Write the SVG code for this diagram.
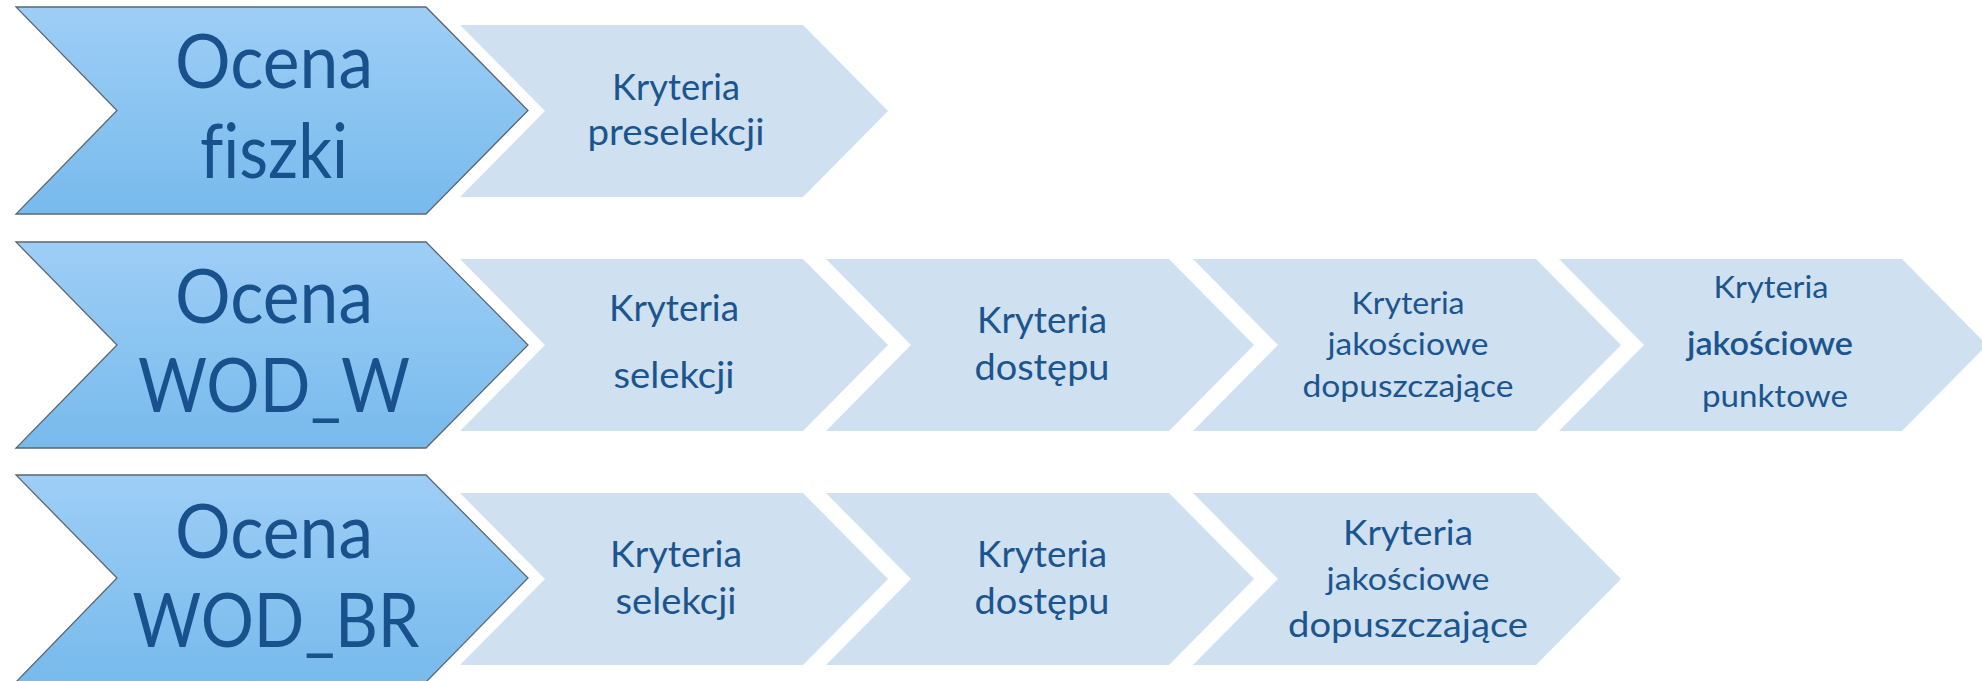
<svg xmlns="http://www.w3.org/2000/svg" width="1982" height="681" viewBox="0 0 1982 681">
<defs>
<linearGradient id="gBig" x1="0" y1="0" x2="0" y2="1">
<stop offset="0" stop-color="#9ECEF6"/>
<stop offset="1" stop-color="#77BAEC"/>
</linearGradient>
<style>
.big{fill:url(#gBig);stroke:#5E6670;stroke-width:1.3;stroke-linejoin:miter}
.lt{fill:#CFE0F1}
text{font-family:Lato,"Open Sans","Liberation Sans",sans-serif;fill:#1A5590;text-anchor:middle;font-variant-ligatures:none}
.h{font-size:75px;fill:#18518C}
.m{font-size:37px}
.s{font-size:30px}
</style>
</defs>
<rect width="1982" height="681" fill="#FFFFFF"/>

<g id="row1-head">
<path class="big" d="M16,7 H426 L528,110.5 L426,214 H16 L117,110.5 Z"/>
<text class="h" x="274" y="88" textLength="198" lengthAdjust="spacingAndGlyphs">Ocena</text>
<text class="h" x="274" y="178" textLength="148" lengthAdjust="spacingAndGlyphs">fiszki</text>
</g>
<g id="row1-preselekcja">
<path class="lt" d="M460,25 H803 L888,111 L803,197 H460 L545,111 Z"/>
<text class="m" x="676" y="100" textLength="128" lengthAdjust="spacingAndGlyphs">Kryteria</text>
<text class="m" x="676" y="145" textLength="177" lengthAdjust="spacingAndGlyphs">preselekcji</text>
</g>

<g id="row2-head">
<path class="big" d="M16,242 H426 L528,345 L426,448 H16 L117,345 Z"/>
<text class="h" x="274" y="323" textLength="198" lengthAdjust="spacingAndGlyphs">Ocena</text>
<text class="h" x="274" y="412" textLength="272" lengthAdjust="spacingAndGlyphs">WOD_W</text>
</g>
<g id="row2-selekcja">
<path class="lt" d="M460,259 H803 L888,345 L803,431 H460 L545,345 Z"/>
<text class="m" x="674" y="321" textLength="130" lengthAdjust="spacingAndGlyphs">Kryteria</text>
<text class="m" x="674" y="388" textLength="121" lengthAdjust="spacingAndGlyphs">selekcji</text>
</g>
<g id="row2-dostep">
<path class="lt" d="M826,259 H1169 L1254,345 L1169,431 H826 L911,345 Z"/>
<text class="m" x="1042" y="333" textLength="130" lengthAdjust="spacingAndGlyphs">Kryteria</text>
<text class="m" x="1042" y="380" textLength="135" lengthAdjust="spacingAndGlyphs">dostępu</text>
</g>
<g id="row2-jakosciowe-dop">
<path class="lt" d="M1193,259 H1536 L1621,345 L1536,431 H1193 L1278,345 Z"/>
<text class="s" x="1408" y="314" textLength="113" lengthAdjust="spacingAndGlyphs">Kryteria</text>
<text class="s" x="1408" y="355" textLength="161" lengthAdjust="spacingAndGlyphs">jakościowe</text>
<text class="s" x="1408" y="397" textLength="211" lengthAdjust="spacingAndGlyphs">dopuszczające</text>
</g>
<g id="row2-jakosciowe-pkt">
<path class="lt" d="M1559,259 H1902 L1987,345 L1902,431 H1559 L1644,345 Z"/>
<text class="s" x="1771" y="298" textLength="115" lengthAdjust="spacingAndGlyphs">Kryteria</text>
<text class="s" x="1770" y="355" font-weight="600" style="font-size:32px" textLength="166" lengthAdjust="spacingAndGlyphs">jakościowe</text>
<text class="s" x="1775" y="407" textLength="146" lengthAdjust="spacingAndGlyphs">punktowe</text>
</g>

<g id="row3-head">
<path class="big" d="M16,475 H426 L528,578 L426,682 H16 L117,578 Z"/>
<text class="h" x="274" y="558" textLength="198" lengthAdjust="spacingAndGlyphs">Ocena</text>
<text class="h" x="276" y="647" textLength="287" lengthAdjust="spacingAndGlyphs">WOD_BR</text>
</g>
<g id="row3-selekcja">
<path class="lt" d="M460,493 H803 L888,579 L803,665 H460 L545,579 Z"/>
<text class="m" x="676" y="567" textLength="132" lengthAdjust="spacingAndGlyphs">Kryteria</text>
<text class="m" x="676" y="614" textLength="121" lengthAdjust="spacingAndGlyphs">selekcji</text>
</g>
<g id="row3-dostep">
<path class="lt" d="M826,493 H1169 L1254,579 L1169,665 H826 L911,579 Z"/>
<text class="m" x="1042" y="567" textLength="130" lengthAdjust="spacingAndGlyphs">Kryteria</text>
<text class="m" x="1042" y="614" textLength="135" lengthAdjust="spacingAndGlyphs">dostępu</text>
</g>
<g id="row3-jakosciowe-dop">
<path class="lt" d="M1193,493 H1536 L1621,579 L1536,665 H1193 L1278,579 Z"/>
<text style="font-size:35px" x="1408" y="545" textLength="130" lengthAdjust="spacingAndGlyphs">Kryteria</text>
<text class="s" x="1408" y="590" textLength="163" lengthAdjust="spacingAndGlyphs">jakościowe</text>
<text style="font-size:35px" x="1408" y="637" textLength="240" lengthAdjust="spacingAndGlyphs">dopuszczające</text>
</g>

<g id="connectors"/>
</svg>
